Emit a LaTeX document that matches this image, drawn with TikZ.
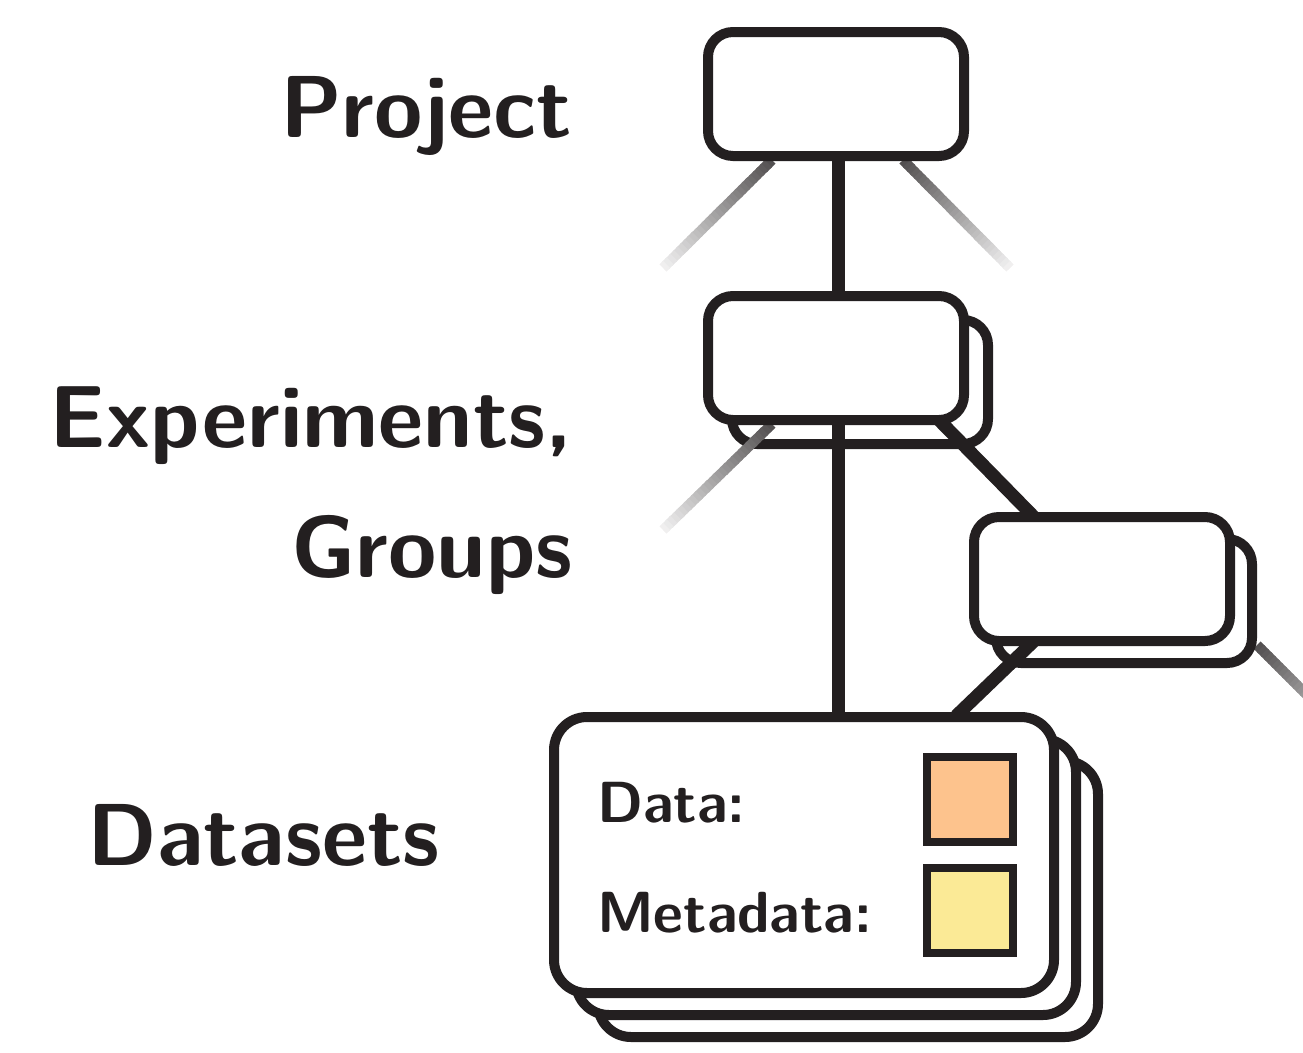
\documentclass[tikz,border=0pt]{standalone}
\usepackage{fontspec}
\usetikzlibrary{calc}
\definecolor{ink}{HTML}{231F20}
\definecolor{dataC}{HTML}{FDC38D}
\definecolor{metaC}{HTML}{FBEA96}
\pgfdeclarelayer{back}
\pgfdeclarelayer{mid}
\pgfsetlayers{back,mid,main}
\newcommand{\fadeline}[2]{%
  \foreach \i in {0,...,29}{%
    \pgfmathsetmacro\ta{\i/30}%
    \pgfmathsetmacro\tb{min(1,(\i+1.4)/30)}%
    \pgfmathsetmacro\cc{78-\i*2.45}%
    \draw[line width=10pt, draw=ink!\cc] ($(#1)!\ta!(#2)$) -- ($(#1)!\tb!(#2)$);
  }}
\begin{document}
\begin{tikzpicture}[x=1pt,y=-1pt,
  box/.style={draw=ink, line width=10pt, fill=white, rounded corners=25pt,
    minimum width=256pt, minimum height=124pt, inner sep=0pt},
  dsbox/.style={box, rounded corners=33pt, minimum width=500pt, minimum height=276pt},
  link/.style={draw=ink, line width=13pt},
  lbl/.style={text=ink, font=\sffamily\bfseries\fontsize{88}{96}\selectfont, inner sep=0pt},
  small/.style={text=ink, font=\sffamily\bfseries\fontsize{58}{62}\selectfont, inner sep=0pt},
  swatch/.style={draw=ink, line width=8pt, minimum width=86pt, minimum height=85pt, inner sep=0pt}]
\useasboundingbox (0,0) rectangle (1303,1052);

% front boxes
\node[box] (proj) at (836,94) {};
\node[box] (exp) at (836,358) {};
\node[box] (grp) at (1102,579) {};
\node[dsbox] (ds) at (804,855) {};

% swatches and texts
\node[swatch, fill=dataC] (sdata) at (970,799.5) {};
\node[swatch, fill=metaC] (smeta) at (970,910.5) {};
\node[small, anchor=base west] (tdata) at (597,822) {Data:};
\node[small, anchor=base west] (tmeta) at (597,932) {Metadata:};

\node[lbl, anchor=base east] (lproj) at (572,137) {Project};
\node[lbl, anchor=base east] (lexp) at (573,447) {Experiments,};
\node[lbl, anchor=base east] (lgrp) at (573,577) {Groups};
\node[lbl, anchor=base west] (lds) at (87,865) {Datasets};

% free ends of the fading lines
\coordinate (pl1) at (772,160);
\coordinate (pl2) at (663,268);
\coordinate (pr1) at (903,160);
\coordinate (pr2) at (1010,268);
\coordinate (el1) at (772,424);
\coordinate (el2) at (663,530);
\coordinate (gr1) at (1257,645);
\coordinate (gr2) at (1364,752);
\coordinate (eg1) at (939,420);
\coordinate (eg2) at (1034,517);
\coordinate (gd1) at (1034,641);
\coordinate (gd2) at (956,716);

\begin{pgfonlayer}{back}
  \begin{scope}
    \clip (0,0) rectangle (1303,1052);
    \fadeline{gr1}{gr2}
  \end{scope}
  \node[box] (expb) at ($(exp)+(24,24)$) {};
  \node[box] (grpb) at ($(grp)+(22,22)$) {};
  \node[dsbox] (ds3) at ($(ds)+(44,44)$) {};
  \node[dsbox] (ds2) at ($(ds)+(22,22)$) {};
\end{pgfonlayer}

\begin{pgfonlayer}{mid}
  \fadeline{pl1}{pl2}
  \fadeline{pr1}{pr2}
  \fadeline{el1}{el2}
  \draw[link] ($(proj.south)+(2,0)$) -- ($(exp.north)+(2,0)$);
  \draw[link] ($(exp.south)+(2,0)$) -- ($(exp.south |- ds.north)+(2,0)$);
  \draw[link] (eg1) -- (eg2);
  \draw[link] (gd1) -- (gd2);
\end{pgfonlayer}
\end{tikzpicture}
\end{document}
